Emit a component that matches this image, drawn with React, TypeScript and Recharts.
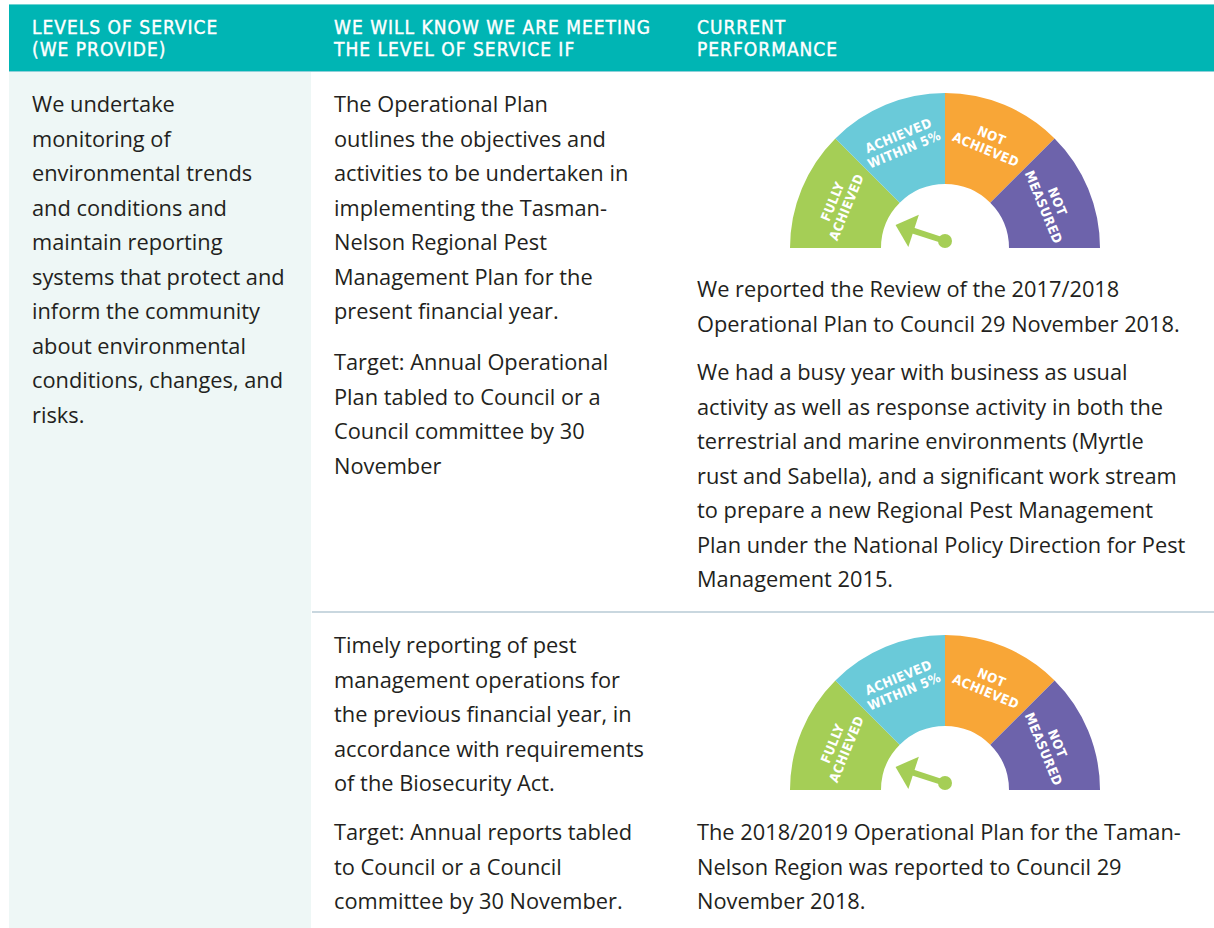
import React from "react";
import { PieChart, Pie, Cell, Customized } from "recharts";

const headerLabels = [
  ["LEVELS OF SERVICE", "(WE PROVIDE)"],
  ["WE WILL KNOW WE ARE MEETING", "THE LEVEL OF SERVICE IF"],
  ["CURRENT", "PERFORMANCE"],
];

const gaugeCategories = [
  ["FULLY", "ACHIEVED"],
  ["ACHIEVED", "WITHIN 5%"],
  ["NOT", "ACHIEVED"],
  ["NOT", "MEASURED"],
];
const gaugeShares = [1, 1, 1, 1];
const gaugeColors = ["#A5CE56", "#6ACAD9", "#F8A637", "#6D63AB"];
const gaugeMax = 4;
const needleValues = [0.4, 0.4];

const levelLines = [
  "We undertake",
  "monitoring of",
  "environmental trends",
  "and conditions and",
  "maintain reporting",
  "systems that protect and",
  "inform the community",
  "about environmental",
  "conditions, changes, and",
  "risks.",
];

const row1Measure = [
  "The Operational Plan",
  "outlines the objectives and",
  "activities to be undertaken in",
  "implementing the Tasman-",
  "Nelson Regional Pest",
  "Management Plan for the",
  "present financial year.",
];
const row1Target = [
  "Target: Annual Operational",
  "Plan tabled to Council or a",
  "Council committee by 30",
  "November",
];
const row1Perf1 = [
  "We reported the Review of the 2017/2018",
  "Operational Plan to Council 29 November 2018.",
];
const row1Perf2 = [
  "We had a busy year with business as usual",
  "activity as well as response activity in both the",
  "terrestrial and marine environments (Myrtle",
  "rust and Sabella), and a significant work stream",
  "to prepare a new Regional Pest Management",
  "Plan under the National Policy Direction for Pest",
  "Management 2015.",
];
const row2Measure = [
  "Timely reporting of pest",
  "management operations for",
  "the previous financial year, in",
  "accordance with requirements",
  "of the Biosecurity Act.",
];
const row2Target = [
  "Target: Annual reports tabled",
  "to Council or a Council",
  "committee by 30 November.",
];
const row2Perf = [
  "The 2018/2019 Operational Plan for the Taman-",
  "Nelson Region was reported to Council 29",
  "November 2018.",
];

const RAD = Math.PI / 180;
const CW = 340;
const CH = 175;
const CX = 170;
const CY = 170;
const INNER = 64;
const OUTER = 155;
const GREEN = gaugeColors[0];

const gaugeData = gaugeCategories.map((c, i) => ({
  name: c.join(" "),
  lines: c,
  value: gaugeShares[i],
}));

const renderLabel = (props: any) => {
  const { cx, cy, midAngle, index } = props;
  const r = 114;
  const x = cx + r * Math.cos(-midAngle * RAD);
  const y = cy + r * Math.sin(-midAngle * RAD);
  const rot = 90 - midAngle;
  const lines = gaugeData[index].lines;
  return (
    <text
      key={"l" + index}
      x={x}
      y={y}
      transform={`rotate(${rot} ${x} ${y})`}
      textAnchor="middle"
      fill="#ffffff"
      fontFamily="'DejaVu Sans Condensed', 'DejaVu Sans', sans-serif"
      fontWeight="bold"
      fontSize={13.2}
      letterSpacing={0.4}
    >
      <tspan x={x} dy={-3}>{lines[0]}</tspan>
      <tspan x={x} dy={15}>{lines[1]}</tspan>
    </text>
  );
};

const Needle = ({ value }: { value: number }) => {
  const theta = (180 - (value / gaugeMax) * 180) * RAD;
  const hx = CX;
  const hy = CY - 7;
  const dx = Math.cos(theta);
  const dy = -Math.sin(theta);
  const px = Math.sin(theta);
  const py = Math.cos(theta);
  const tip = [hx + 52 * dx, hy + 52 * dy];
  const base = [hx + 33 * dx, hy + 33 * dy];
  const c1 = [base[0] + 17 * px, base[1] + 17 * py];
  const c2 = [base[0] - 17 * px, base[1] - 17 * py];
  const line = [hx + 36 * dx, hy + 36 * dy];
  return (
    <g>
      <line x1={hx} y1={hy} x2={line[0]} y2={line[1]} stroke={GREEN} strokeWidth={6} />
      <polygon points={`${tip[0]},${tip[1]} ${c1[0]},${c1[1]} ${c2[0]},${c2[1]}`} fill={GREEN} />
      <circle cx={hx} cy={hy} r={7} fill={GREEN} />
    </g>
  );
};

const Gauge = ({ top, value }: { top: number; value: number }) => (
  <div style={{ position: "absolute", left: 945 - CX, top, width: CW, height: CH }}>
    <PieChart width={CW} height={CH} margin={{ top: 0, right: 0, bottom: 0, left: 0 }}>
      <Pie
        data={gaugeData}
        dataKey="value"
        cx={CX}
        cy={CY}
        startAngle={180}
        endAngle={0}
        innerRadius={INNER}
        outerRadius={OUTER}
        stroke="none"
        label={renderLabel}
        labelLine={false}
        isAnimationActive={false}
      >
        {gaugeData.map((d, i) => (
          <Cell key={d.name} fill={gaugeColors[i]} />
        ))}
      </Pie>
      <Customized component={() => <Needle value={value} />} />
    </PieChart>
  </div>
);

const bodyFont = "'Open Sans', 'Noto Sans', sans-serif";

const Para = ({ lines, left, top }: { lines: string[]; left: number; top: number }) => (
  <div
    style={{
      position: "absolute",
      left,
      top,
      fontFamily: bodyFont,
      fontSize: 21.8,
      lineHeight: "34.5px",
      color: "#231F20",
      whiteSpace: "nowrap",
    }}
  >
    {lines.map((l, i) => (
      <div key={i}>{l}</div>
    ))}
  </div>
);

export default function App() {
  const headerX = [32, 334, 697];
  return (
    <div style={{ position: "absolute", left: 0, top: 0, width: 1214, height: 928, background: "#fff", overflow: "hidden" }}>
      <div style={{ position: "absolute", left: 9, top: 4, width: 1205, height: 68, background: "#00B5B4", borderTop: "1px solid #6fd3d2", borderBottom: "1px solid #8fd0d9", boxSizing: "border-box" }} />
      {headerLabels.map((h, i) => (
        <div
          key={i}
          style={{
            position: "absolute",
            left: headerX[i],
            top: 16,
            fontFamily: "'DejaVu Sans Condensed', 'DejaVu Sans', sans-serif",
            fontSize: 19,
            lineHeight: "22.2px",
            letterSpacing: 1.0,
            color: "#ffffff",
            whiteSpace: "nowrap",
            WebkitTextStroke: "0.4px #ffffff",
          }}
        >
          <div>{h[0]}</div>
          <div>{h[1]}</div>
        </div>
      ))}
      <div style={{ position: "absolute", left: 9, top: 72, width: 302, height: 856, background: "#EEF7F6" }} />
      <div style={{ position: "absolute", left: 312, top: 611, width: 902, height: 2, background: "#C9D7DF" }} />
      <Para lines={levelLines} left={32} top={87} />
      <Para lines={row1Measure} left={334} top={87} />
      <Para lines={row1Target} left={334} top={345} />
      <Gauge top={78} value={needleValues[0]} />
      <Para lines={row1Perf1} left={697} top={272} />
      <Para lines={row1Perf2} left={697} top={355} />
      <Para lines={row2Measure} left={334} top={628} />
      <Para lines={row2Target} left={334} top={815} />
      <Gauge top={620} value={needleValues[1]} />
      <Para lines={row2Perf} left={697} top={815} />
    </div>
  );
}
